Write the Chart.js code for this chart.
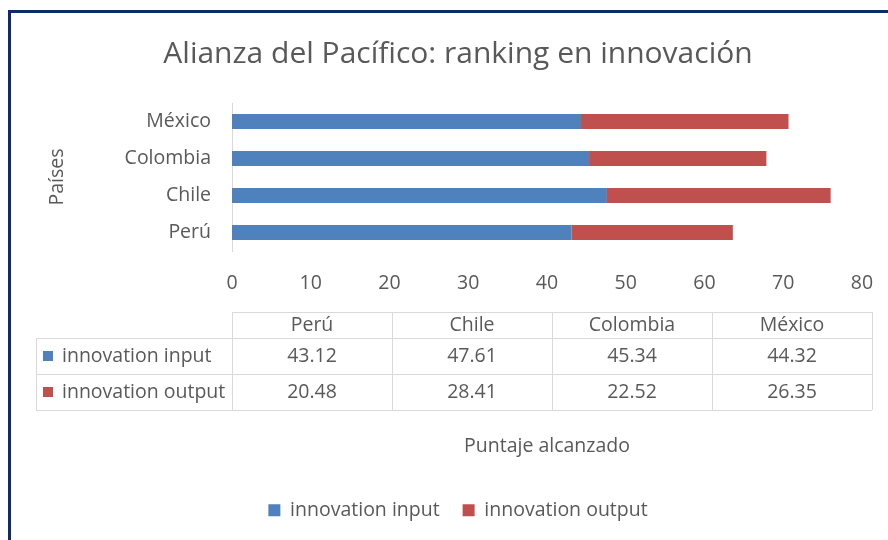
<!DOCTYPE html>
<html><head><meta charset="utf-8">
<script src="https://cdn.jsdelivr.net/npm/chart.js@4/dist/chart.umd.min.js"></script>
<style>html,body{margin:0;padding:0;background:#fff;overflow:hidden}#wrap{width:888px;height:540px;position:relative}</style>
</head><body><div id="wrap"><canvas id="c" width="888" height="540"></canvas></div>
<script>
const categories = ['Perú', 'Chile', 'Colombia', 'México'];
const innovationInput = [43.12, 47.61, 45.34, 44.32];
const innovationOutput = [20.48, 28.41, 22.52, 26.35];
const seriesNames = ['innovation input', 'innovation output'];
const xMin = 0, xMax = 80, xStep = 10;
const titleText = 'Alianza del Pacífico: ranking en innovación';
const yTitleText = 'Países';
const xTitleText = 'Puntaje alcanzado';

const FONT = "'Open Sans', 'Noto Sans', sans-serif";
const FS = 19.5;
const GREY = '#595959';
const BLUE = '#4f81bd';
const RED = '#c0504d';

const frame = {
  id: 'frame',
  beforeDraw(chart) {
    const ctx = chart.ctx;
    ctx.save();
    ctx.fillStyle = '#fff';
    ctx.fillRect(0, 0, chart.width, chart.height);
    ctx.strokeStyle = '#0d2a6b';
    ctx.lineWidth = 3;
    ctx.strokeRect(9.5, 11.5, chart.width + 20, chart.height + 20);
    ctx.restore();
  }
};

const dataTable = {
  id: 'dataTable',
  afterDraw(chart) {
    const ctx = chart.ctx;
    const ds = chart.data.datasets;
    const labels = chart.data.labels;
    const x0 = chart.chartArea.left;
    const leftX = 36;
    const colW = 160;
    const rows = [312, 338, 374, 410];
    const right = x0 + colW * labels.length;
    ctx.save();
    ctx.strokeStyle = '#d9d9d9';
    ctx.lineWidth = 1;
    ctx.beginPath();
    ctx.moveTo(x0, rows[0] + 0.5); ctx.lineTo(right, rows[0] + 0.5);
    for (let r = 1; r < rows.length; r++) {
      ctx.moveTo(leftX, rows[r] + 0.5); ctx.lineTo(right, rows[r] + 0.5);
    }
    ctx.moveTo(leftX + 0.5, rows[1]); ctx.lineTo(leftX + 0.5, rows[3]);
    for (let c = 0; c <= labels.length; c++) {
      const x = x0 + c * colW + 0.5;
      ctx.moveTo(x, rows[0]); ctx.lineTo(x, rows[3]);
    }
    ctx.stroke();
    ctx.font = FS + 'px ' + FONT;
    ctx.fillStyle = GREY;
    ctx.textAlign = 'center';
    ctx.textBaseline = 'middle';
    labels.forEach((l, i) => {
      ctx.fillText(l, x0 + i * colW + colW / 2, (rows[0] + rows[1]) / 2);
    });
    ds.forEach((d, r) => {
      const cy = (rows[r + 1] + rows[r + 2]) / 2;
      ctx.fillStyle = d.backgroundColor;
      ctx.fillRect(leftX + 7, cy - 5, 10, 10);
      ctx.fillStyle = GREY;
      ctx.textAlign = 'left';
      ctx.fillText(d.label, leftX + 26, cy);
      ctx.textAlign = 'center';
      d.data.forEach((v, i) => {
        ctx.fillText(v.toFixed(2), x0 + i * colW + colW / 2, cy);
      });
    });
    ctx.restore();
  }
};

new Chart(document.getElementById('c'), {
  type: 'bar',
  data: {
    labels: categories,
    datasets: [
      { label: seriesNames[0], data: innovationInput, backgroundColor: BLUE, barPercentage: 0.4, categoryPercentage: 1 },
      { label: seriesNames[1], data: innovationOutput, backgroundColor: RED, barPercentage: 0.4, categoryPercentage: 1 }
    ]
  },
  options: {
    indexAxis: 'y',
    responsive: false,
    animation: false,
    devicePixelRatio: 1,
    layout: { padding: { left: 54, right: 26, top: 0, bottom: 10 } },
    plugins: {
      title: {
        display: true, text: titleText, color: GREY,
        font: { family: FONT, size: 30, weight: 'normal' },
        padding: { top: 36, bottom: 31 }
      },
      legend: {
        position: 'bottom',
        labels: { color: GREY, font: { family: FONT, size: FS }, boxWidth: 12, boxHeight: 12, padding: 23 }
      },
      tooltip: { enabled: false }
    },
    scales: {
      x: {
        stacked: true, min: xMin, max: xMax,
        ticks: { stepSize: xStep, color: GREY, font: { family: FONT, size: FS }, padding: 13 },
        grid: { display: false },
        border: { display: false },
        title: { display: true, text: xTitleText, color: GREY, font: { family: FONT, size: FS }, padding: { top: 0, bottom: 19.8 } },
        afterFit(s) { s.height = 226.5; }
      },
      y: {
        stacked: true, reverse: true,
        ticks: { color: GREY, font: { family: FONT, size: FS }, padding: 13 },
        grid: { display: false },
        border: { display: true, color: '#d9d9d9', width: 1 },
        title: { display: true, text: yTitleText, color: GREY, font: { family: FONT, size: FS }, padding: { top: -8.4, bottom: 0 } },
        afterFit(s) { s.width = 178; }
      }
    }
  },
  plugins: [frame, dataTable]
});
</script></body></html>
